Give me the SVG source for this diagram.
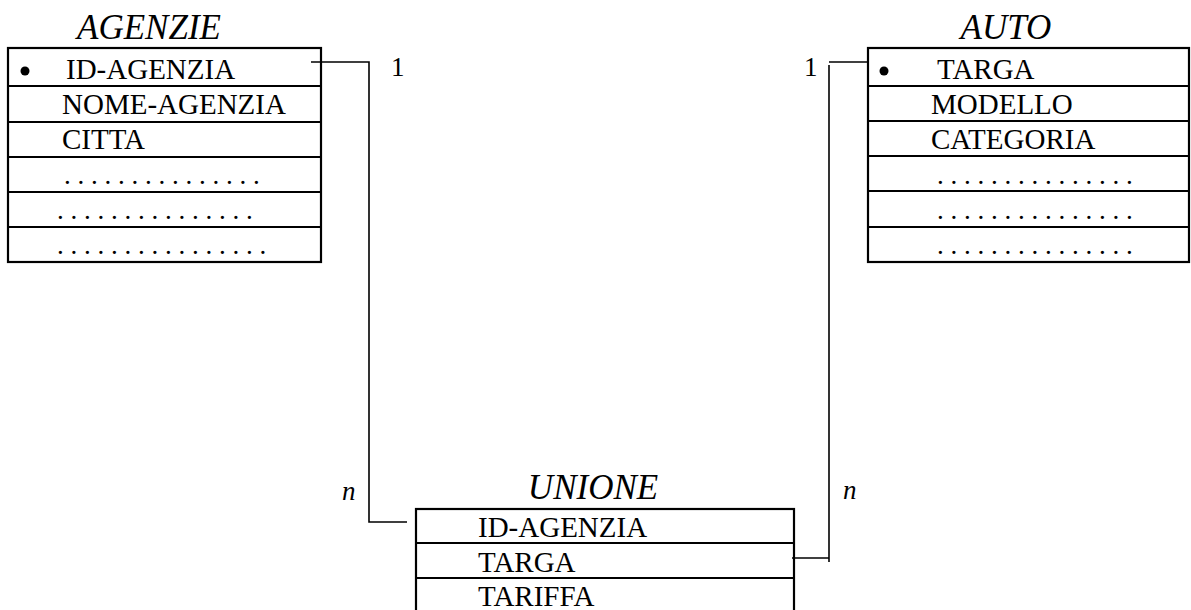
<svg xmlns="http://www.w3.org/2000/svg" width="1191" height="610" viewBox="0 0 1191 610">
<style>
.box{fill:#fff;stroke:#000;stroke-width:2.2}
.row{stroke:#000;stroke-width:2.2}
.t{font-family:"Liberation Serif","Times New Roman",serif;font-size:29px;fill:#000}
.d{font-family:"Liberation Serif","Times New Roman",serif;font-size:27px;fill:#000}
.title{font-family:"Liberation Serif","Times New Roman",serif;font-size:35px;font-style:italic;fill:#000}
.lbl{font-family:"Liberation Serif","Times New Roman",serif;font-size:27px;fill:#000}
.n{font-family:"Liberation Serif","Times New Roman",serif;font-size:27px;font-style:italic;fill:#000}
.c{fill:none;stroke:#000;stroke-width:1.6}
</style>
<rect width="1191" height="610" fill="#fff"/>
<g id="agenzie">
<text class="title" x="149" y="39" text-anchor="middle">AGENZIE</text>
<rect class="box" x="8" y="48" width="313" height="214"/>
<line class="row" x1="8" y1="86" x2="321" y2="86"/>
<line class="row" x1="8" y1="122" x2="321" y2="122"/>
<line class="row" x1="8" y1="157" x2="321" y2="157"/>
<line class="row" x1="8" y1="192" x2="321" y2="192"/>
<line class="row" x1="8" y1="227" x2="321" y2="227"/>
<circle cx="25" cy="71" r="4.5" fill="#000"/>
<text class="t" x="66" y="79">ID-AGENZIA</text>
<text class="t" x="62" y="114">NOME-AGENZIA</text>
<text class="t" x="62" y="149">CITTA</text>
<text class="d" x="64" y="184">. . . . . . . . . . . . . . .</text>
<text class="d" x="57" y="219">. . . . . . . . . . . . . . .</text>
<text class="d" x="57" y="254">. . . . . . . . . . . . . . . .</text>
</g>
<g id="auto">
<text class="title" x="1006" y="39" text-anchor="middle">AUTO</text>
<rect class="box" x="868" y="48" width="321" height="214"/>
<line class="row" x1="868" y1="86" x2="1189" y2="86"/>
<line class="row" x1="868" y1="121" x2="1189" y2="121"/>
<line class="row" x1="868" y1="156" x2="1189" y2="156"/>
<line class="row" x1="868" y1="191" x2="1189" y2="191"/>
<line class="row" x1="868" y1="227" x2="1189" y2="227"/>
<circle cx="884" cy="71" r="4.5" fill="#000"/>
<text class="t" x="937" y="79">TARGA</text>
<text class="t" x="931" y="114">MODELLO</text>
<text class="t" x="931" y="149">CATEGORIA</text>
<text class="d" x="937" y="184">. . . . . . . . . . . . . . .</text>
<text class="d" x="937" y="219">. . . . . . . . . . . . . . .</text>
<text class="d" x="937" y="254">. . . . . . . . . . . . . . .</text>
</g>
<g id="unione">
<text class="title" x="593" y="499" text-anchor="middle">UNIONE</text>
<rect class="box" x="416" y="509" width="378" height="120"/>
<line class="row" x1="416" y1="543" x2="794" y2="543"/>
<line class="row" x1="416" y1="578" x2="794" y2="578"/>
<text class="t" x="478" y="537">ID-AGENZIA</text>
<text class="t" x="478" y="572">TARGA</text>
<text class="t" x="478" y="606">TARIFFA</text>
</g>
<g id="connectors">
<polyline class="c" points="311,62 369,62 369,522 407,522"/>
<polyline class="c" points="792,558 829,558"/>
<line class="c" x1="829" y1="65" x2="829" y2="562"/>
<line class="c" x1="829" y1="62" x2="868" y2="62"/>
<text class="lbl" x="391" y="76">1</text>
<text class="lbl" x="804" y="76">1</text>
<text class="n" x="342" y="500">n</text>
<text class="n" x="843" y="499">n</text>
</g>
</svg>
